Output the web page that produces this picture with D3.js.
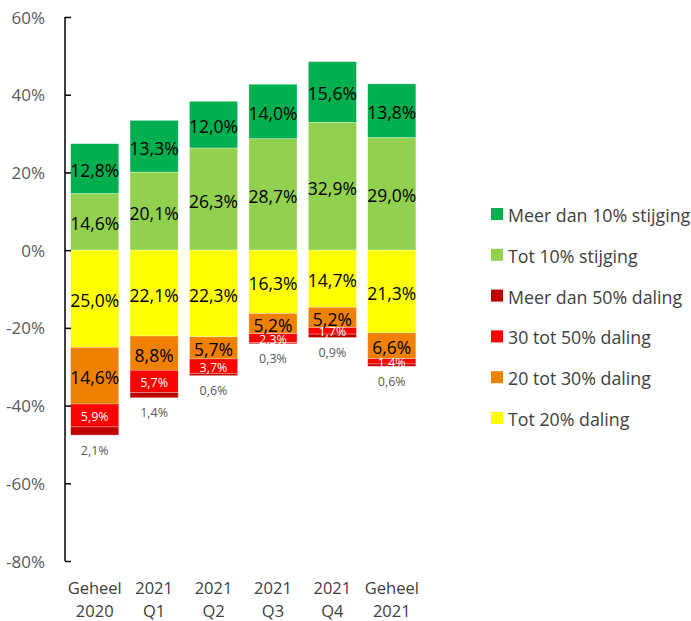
<!DOCTYPE html>
<html lang="nl">
<head>
<meta charset="utf-8">
<title>Koersontwikkeling</title>
<script src="https://cdn.jsdelivr.net/npm/d3@7"></script>
<style>
  body { margin: 0; background: #fff; }
  text { font-family: "Open Sans", "Noto Sans", sans-serif; }
</style>
</head>
<body>
<div id="chart"></div>
<script>
// categories (two-line labels)
var periods = ["Geheel 2020", "2021 Q1", "2021 Q2", "2021 Q3", "2021 Q4", "Geheel 2021"];
var periodLines = [["Geheel", "2020"], ["2021", "Q1"], ["2021", "Q2"], ["2021", "Q3"], ["2021", "Q4"], ["Geheel", "2021"]];

// series values in % (daling as negative)
var tot10Stijging   = [14.6, 20.1, 26.3, 28.7, 32.9, 29.0];
var meer10Stijging  = [12.8, 13.3, 12.0, 14.0, 15.6, 13.8];
var tot20Daling     = [-25.0, -22.1, -22.3, -16.3, -14.7, -21.3];
var d20tot30Daling  = [-14.6, -8.8, -5.7, -5.2, -5.2, -6.6];
var d30tot50Daling  = [-5.9, -5.7, -3.7, -2.3, -1.7, -1.4];
var meer50Daling    = [-2.1, -1.4, -0.6, -0.3, -0.9, -0.6];

var yTicks = [60, 40, 20, 0, -20, -40, -60, -80];

var series = [
  {key: "Tot 10% stijging", values: tot10Stijging, color: "#92D050", label: "main"},
  {key: "Meer dan 10% stijging", values: meer10Stijging, color: "#00B050", label: "main"},
  {key: "Tot 20% daling", values: tot20Daling, color: "#FFFF00", label: "main"},
  {key: "20 tot 30% daling", values: d20tot30Daling, color: "#F08000", label: "main"},
  {key: "30 tot 50% daling", values: d30tot50Daling, color: "#FF0000", label: "white"},
  {key: "Meer dan 50% daling", values: meer50Daling, color: "#C00000", label: "below"}
];
var legendOrder = ["Meer dan 10% stijging", "Tot 10% stijging", "Meer dan 50% daling",
                   "30 tot 50% daling", "20 tot 30% daling", "Tot 20% daling"];

var W = 691, H = 621;
var svg = d3.select("#chart").append("svg").attr("width", W).attr("height", H);

// table for d3.stack
var table = periods.map(function(p, i) {
  var row = {period: p};
  series.forEach(function(s) { row[s.key] = s.values[i]; });
  return row;
});

var stack = d3.stack()
  .keys(series.map(function(s) { return s.key; }))
  .offset(d3.stackOffsetDiverging);
var layers = stack(table);

var x = d3.scaleBand().domain(periods).range([65, 421.5]).paddingInner(0.19).paddingOuter(0.095);
var y = d3.scaleLinear().domain([-80, 60]).range([561, 17]);

var fmt = function(v) { return Math.abs(v).toFixed(1).replace(".", ",") + "%"; };

// bars
layers.forEach(function(layer, li) {
  var s = series[li];
  var g = svg.append("g");
  g.selectAll("rect").data(layer).enter().append("rect")
    .attr("x", function(d) { return x(d.data.period); })
    .attr("width", x.bandwidth())
    .attr("y", function(d) { return y(Math.max(d[0], d[1])); })
    .attr("height", function(d) { return Math.abs(y(d[0]) - y(d[1])); })
    .attr("fill", s.color)
    .attr("stroke", "#ffffff")
    .attr("stroke-opacity", 0.5)
    .attr("stroke-width", 0.6);
});

// labels
layers.forEach(function(layer, li) {
  var s = series[li];
  var t = svg.append("g").selectAll("text").data(layer).enter().append("text")
    .attr("x", function(d) { return x(d.data.period) + x.bandwidth() / 2; })
    .attr("text-anchor", "middle")
    .attr("dominant-baseline", "central")
    .text(function(d) { return fmt(d[1] - d[0]); });
  if (s.label === "main") {
    t.attr("y", function(d) { return y((d[0] + d[1]) / 2) + 1.5; })
      .attr("font-size", "17.5px").attr("fill", "#000");
  } else if (s.label === "white") {
    t.attr("y", function(d) { return y((d[0] + d[1]) / 2) + 1; })
      .attr("font-size", "12.5px").attr("fill", "#fff");
  } else {
    t.attr("y", function(d) { return y(Math.min(d[0], d[1])) + 15; })
      .attr("font-size", "12.5px").attr("fill", "#595959");
  }
});

// y axis
var yAxis = svg.append("g").attr("transform", "translate(65,0)")
  .call(d3.axisRight(y).tickValues(yTicks).tickSize(6).tickFormat(""));
yAxis.select(".domain").attr("d", "M0," + y(60) + "V" + y(-80)).attr("stroke", "#000").attr("stroke-width", 1.5);
yAxis.selectAll(".tick line").attr("stroke", "#000").attr("stroke-width", 1.5);

svg.append("g").selectAll("text").data(yTicks).enter().append("text")
  .attr("x", 45)
  .attr("y", function(d) { return y(d); })
  .attr("text-anchor", "end")
  .attr("dominant-baseline", "central")
  .attr("font-size", "17px")
  .attr("fill", "#595959")
  .text(function(d) { return d + "%"; });

// x labels
var xl = svg.append("g").selectAll("text").data(periods).enter().append("text")
  .attr("text-anchor", "middle")
  .attr("font-size", "16.5px")
  .attr("fill", "#404040");
xl.each(function(p, i) {
  var el = d3.select(this);
  var cx = x(p) + x.bandwidth() / 2;
  periodLines[i].forEach(function(line, k) {
    el.append("tspan").attr("x", cx).attr("y", 594 + k * 23).text(line);
  });
});

// legend
var colorOf = {};
series.forEach(function(s) { colorOf[s.key] = s.color; });
var leg = svg.append("g").selectAll("g").data(legendOrder).enter().append("g")
  .attr("transform", function(d, i) { return "translate(491," + (214 + i * 40.8) + ")"; });
leg.append("rect").attr("x", 0).attr("y", -6).attr("width", 12).attr("height", 12)
  .attr("fill", function(d) { return colorOf[d]; });
leg.append("text").attr("x", 17).attr("y", 1)
  .attr("dominant-baseline", "central")
  .attr("font-size", "17.8px").attr("fill", "#404040")
  .text(function(d) { return d; });
</script>
</body>
</html>
